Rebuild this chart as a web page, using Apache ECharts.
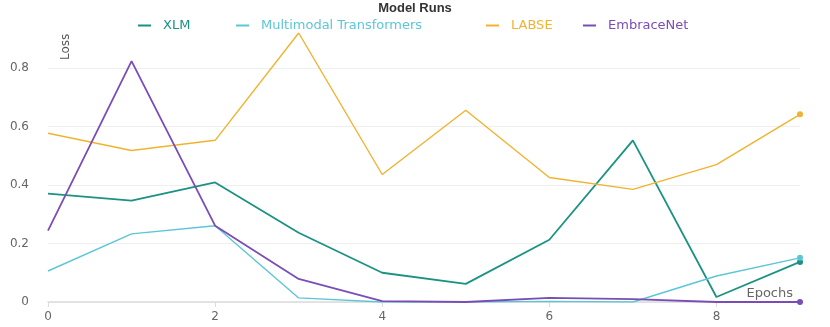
<!DOCTYPE html>
<html>
<head>
<meta charset="utf-8">
<script src="https://cdn.jsdelivr.net/npm/echarts@6/dist/echarts.min.js"></script>
<style>
  html, body { margin: 0; padding: 0; background: #fff; }
  #myChart { width: 830px; height: 327px; }
</style>
</head>
<body>
<div id="myChart"></div>
<script>
  // epochs on the x axis
  var epochs = [0, 1, 2, 3, 4, 5, 6, 7, 8, 9]
  var seriesNames = ['XLM', 'Multimodal Transformers', 'LABSE', 'EmbraceNet']
  var xlm = [0.371, 0.347, 0.409, 0.237, 0.100, 0.062, 0.213, 0.553, 0.017, 0.137]
  var multimodal = [0.106, 0.233, 0.261, 0.014, 0.000, 0.000, 0.002, 0.000, 0.089, 0.151]
  var labse = [0.577, 0.518, 0.553, 0.920, 0.436, 0.656, 0.426, 0.385, 0.470, 0.642]
  var embracenet = [0.244, 0.824, 0.261, 0.079, 0.003, 0.000, 0.014, 0.010, 0.000, 0.000]
  var colors = ['#1b9282', '#5cc6d8', '#f0b330', '#7a4db6']
  var legendLeft = [133, 231, 481, 578]

  var font = 'DejaVu Sans'
  var last = epochs.length - 1

  function pairs(vals) {
    return epochs.map(function (e, i) { return [e, vals[i]] })
  }

  function makeSeries(name, vals, color, width) {
    return {
      name: name,
      type: 'line',
      data: pairs(vals),
      color: color,
      showAllSymbol: true,
      symbol: function (v, p) { return p.dataIndex === last ? 'circle' : 'none' },
      symbolSize: 6,
      lineStyle: {width: width, color: color},
      itemStyle: {color: color},
      emphasis: {disabled: true},
      z: 3
    }
  }

  var allVals = [xlm, multimodal, labse, embracenet]
  var widths = [1.8, 1.4, 1.4, 1.8]

  var legends = seriesNames.map(function (n, i) {
    return {
      data: [n],
      left: legendLeft[i],
      top: 14,
      icon: 'rect',
      itemWidth: 13,
      itemHeight: 2,
      textStyle: {color: colors[i], fontSize: 13, fontFamily: font, padding: [0, 0, 0, 7]}
    }
  })

  var myChart = echarts.init(document.getElementById('myChart'))
  myChart.setOption({
    animation: false,
    title: {
      text: 'Model Runs',
      left: 'center',
      top: -3,
      textStyle: {fontSize: 13, fontWeight: 'bold', color: '#333', fontFamily: 'Liberation Sans'}
    },
    legend: legends,
    grid: {left: 48, right: 30, top: 33, bottom: 25},
    xAxis: {
      type: 'value',
      min: 0,
      max: 9,
      interval: 2,
      name: 'Epochs',
      nameLocation: 'end',
      nameGap: -7,
      nameTextStyle: {color: '#666', fontSize: 13, fontFamily: font, align: 'right', verticalAlign: 'bottom', padding: [0, 0, 2, 0]},
      splitLine: {show: false},
      axisLine: {lineStyle: {color: '#dcdcdc', width: 1.5}},
      axisTick: {show: true, length: 5, lineStyle: {color: '#dcdcdc'}},
      axisLabel: {color: '#666', fontSize: 12, fontFamily: font, margin: 9, showMaxLabel: false}
    },
    yAxis: {
      type: 'value',
      min: 0,
      max: 'dataMax',
      interval: 0.2,
      name: 'Loss',
      nameLocation: 'end',
      nameRotate: 90,
      nameGap: -27,
      nameTextStyle: {color: '#555', fontSize: 12, fontFamily: font, align: 'left', verticalAlign: 'top', padding: [12, 0, 0, 0]},
      axisLine: {show: false},
      axisTick: {show: false},
      splitLine: {showMaxLine: false, lineStyle: {color: '#efefef'}},
      axisLabel: {color: '#666', fontSize: 12, fontFamily: font, margin: 19, showMaxLabel: false}
    },
    series: seriesNames.map(function (n, i) {
      return makeSeries(n, allVals[i], colors[i], widths[i])
    })
  })
</script>
</body>
</html>
